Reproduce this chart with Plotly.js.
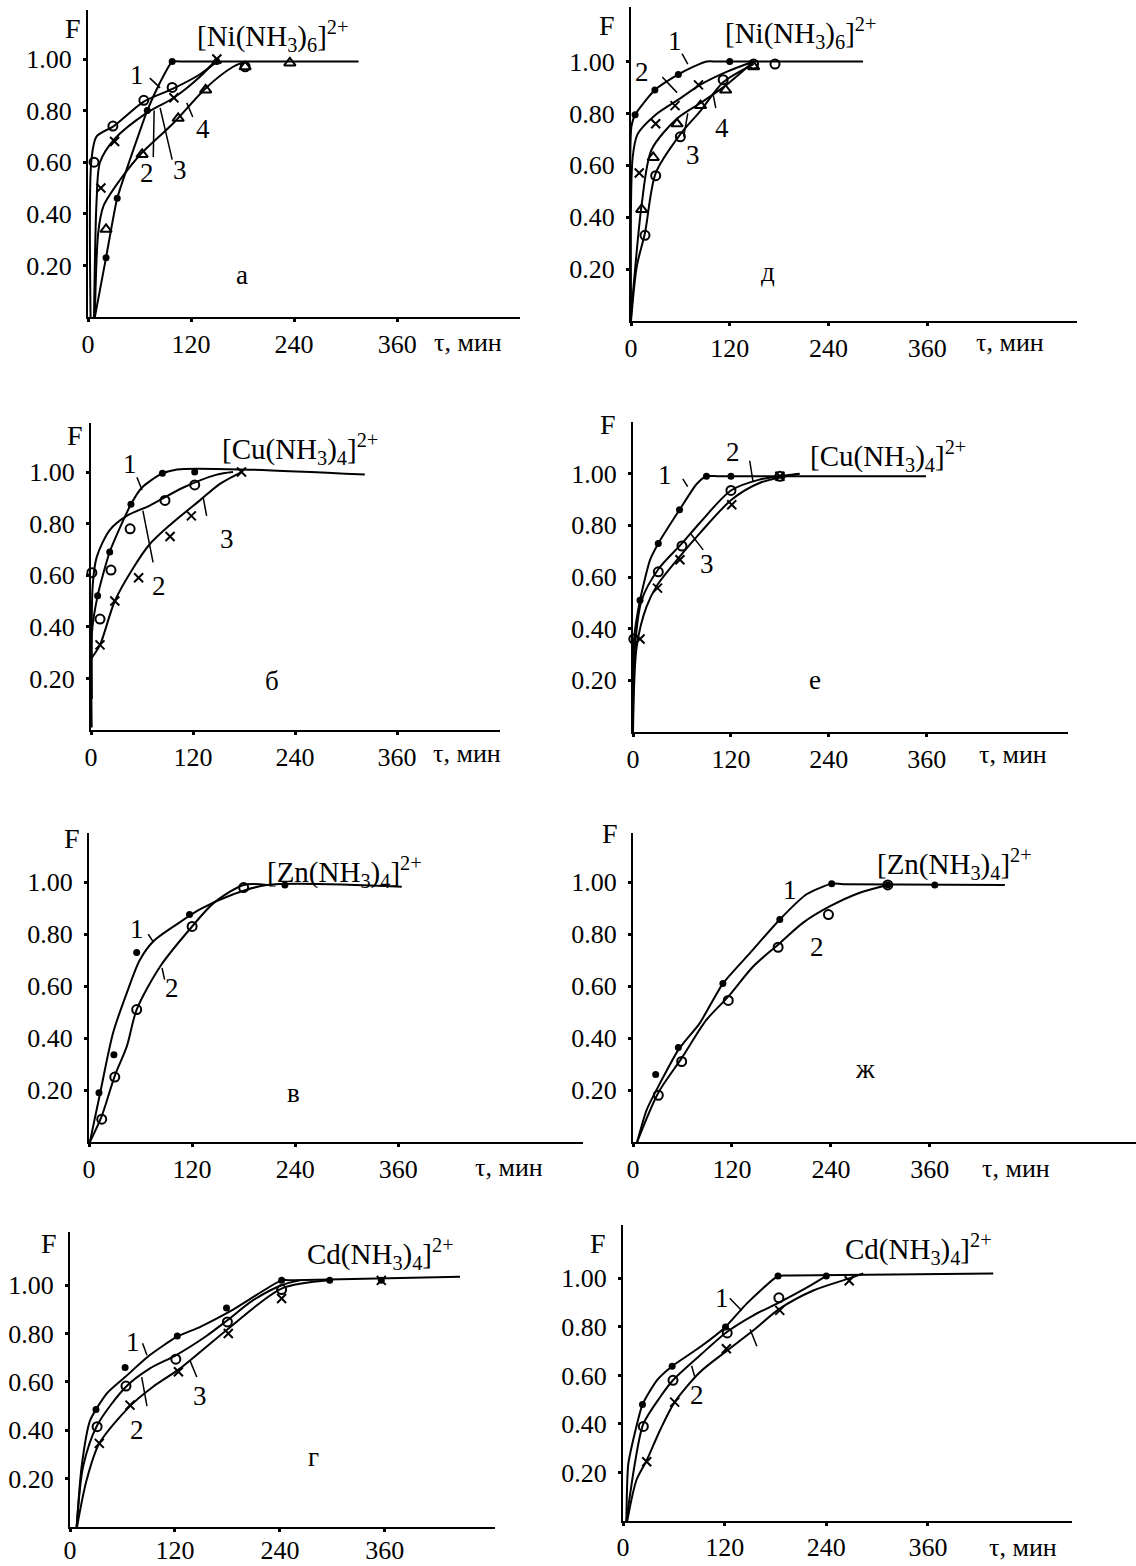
<!DOCTYPE html>
<html><head><meta charset="utf-8">
<script src="https://cdn.plot.ly/plotly-3.0.1.min.js"></script>
<style>body{margin:0;background:#fff}#plot{width:1136px;height:1566px}</style>
</head><body><div id="plot"></div>
<script>
// ===== DATA (t, min ; F) =====
// Panel а  [Ni(NH3)6]2+
const a_dot_t = [21, 34, 69, 98, 150];
const a_dot_F = [0.23, 0.46, 0.80, 0.99, 0.99];
const a_dotLine_t = [8, 21, 34, 69, 84, 98, 112, 315];
const a_dotLine_F = [0, 0.23, 0.46, 0.80, 0.91, 0.99, 0.99, 0.99];
const a_circ_t = [7, 29, 65, 98, 183];
const a_circ_F = [0.60, 0.74, 0.84, 0.89, 0.97];
const a_circLine_t = [3, 4, 10, 30, 65, 99, 130, 150];
const a_circLine_F = [0, 0.61, 0.70, 0.74, 0.835, 0.885, 0.94, 0.99];
const a_x_t = [15, 31, 100, 150];
const a_x_F = [0.50, 0.68, 0.85, 1.0];
const a_xLine_t = [7, 10, 14, 31, 68, 100, 130, 150];
const a_xLine_F = [0, 0.45, 0.60, 0.69, 0.79, 0.85, 0.93, 1.0];
const a_tri_t = [21, 63, 105, 137, 183, 235];
const a_tri_F = [0.34, 0.63, 0.77, 0.88, 0.97, 0.985];
const a_triLine_t = [8, 12, 18, 37, 61, 99, 138, 169, 183];
const a_triLine_F = [0, 0.33, 0.43, 0.53, 0.63, 0.75, 0.89, 0.97, 0.99];

// Panel д  [Ni(NH3)6]2+
const d_dot_t = [5, 29, 57.5, 120];
const d_dot_F = [0.795, 0.89, 0.95, 1.0];
const d_dotLine_t = [0, 0.5, 5, 29, 57.5, 76, 92, 105, 282];
const d_dotLine_F = [0, 0.75, 0.795, 0.89, 0.95, 0.98, 1.0, 1.0, 1.0];
const d_x_t = [10, 30, 53.5, 82];
const d_x_F = [0.57, 0.76, 0.83, 0.91];
const d_xLine_t = [0, 2, 8, 30, 57.5, 84, 116, 149];
const d_xLine_F = [0.03, 0.63, 0.72, 0.795, 0.853, 0.91, 0.96, 1.0];
const d_tri_t = [13, 27, 56, 84.5, 115, 149];
const d_tri_F = [0.43, 0.63, 0.76, 0.83, 0.89, 0.98];
const d_triLine_t = [0, 3, 13, 25, 56, 84.5, 116, 149];
const d_triLine_F = [0.02, 0.13, 0.45, 0.66, 0.78, 0.84, 0.91, 1.0];
const d_circ_t = [17, 30, 60, 112, 149, 175];
const d_circ_F = [0.33, 0.56, 0.71, 0.93, 0.99, 0.99];
const d_circLine_t = [0, 7, 17, 30, 60, 84.5, 112, 149];
const d_circLine_F = [0, 0.21, 0.34, 0.57, 0.72, 0.81, 0.92, 0.99];

// Panel б  [Cu(NH3)4]2+
const b_dot_t = [7.8, 22, 47, 84, 122];
const b_dot_F = [0.52, 0.69, 0.875, 0.995, 1.0];
const b_dotLine_t = [0.8, 1, 7.8, 22, 47, 60, 81, 101, 179, 322];
const b_dotLine_F = [0.01, 0.375, 0.52, 0.69, 0.875, 0.94, 0.99, 1.01, 1.01, 0.99];
const b_circ_t = [1, 10.6, 23.5, 46, 87, 122];
const b_circ_F = [0.61, 0.43, 0.62, 0.78, 0.89, 0.95];
const b_circLine_t = [1, 2, 6.7, 22, 42, 69, 108.6, 148, 167];
const b_circLine_F = [0.12, 0.56, 0.67, 0.775, 0.83, 0.87, 0.94, 0.99, 1.0];
const b_x_t = [10.6, 28, 56, 93, 118, 177];
const b_x_F = [0.33, 0.50, 0.59, 0.75, 0.83, 1.0];
const b_xLine_t = [1, 10.6, 28, 50, 69, 93, 128, 152, 177];
const b_xLine_F = [0.28, 0.33, 0.50, 0.63, 0.72, 0.795, 0.89, 0.955, 1.0];

// Panel е  [Cu(NH3)4]2+
const e_dot_t = [8.6, 31, 57, 90, 120];
const e_dot_F = [0.51, 0.73, 0.86, 0.99, 0.99];
const e_dotLine_t = [0, 1.2, 8.6, 21, 31, 57, 78, 90, 105, 359];
const e_dotLine_F = [0, 0.357, 0.51, 0.667, 0.73, 0.86, 0.96, 0.99, 0.99, 0.99];
const e_circ_t = [1, 31, 60, 120, 180];
const e_circ_F = [0.36, 0.62, 0.72, 0.935, 0.99];
const e_circLine_t = [0, 1.8, 10.6, 31, 60, 82, 120, 155, 204];
const e_circLine_F = [0, 0.305, 0.51, 0.63, 0.73, 0.81, 0.935, 0.977, 1.0];
const e_x_t = [8.6, 30, 57.5, 121, 180];
const e_x_F = [0.36, 0.557, 0.667, 0.88, 0.99];
const e_xLine_t = [0, 4.5, 16.7, 30, 57.5, 82, 121, 155, 204];
const e_xLine_F = [0, 0.33, 0.486, 0.57, 0.68, 0.77, 0.90, 0.964, 1.0];

// Panel в  [Zn(NH3)4]2+
const v_dot_t = [11.6, 29, 55.5, 117, 228];
const v_dot_F = [0.19, 0.336, 0.73, 0.876, 0.99];
const v_dotLine_t = [1, 12.8, 28, 44, 59, 75, 102, 129, 168, 207, 364];
const v_dotLine_F = [0, 0.186, 0.42, 0.574, 0.70, 0.773, 0.838, 0.896, 0.954, 0.99, 0.983];
const v_circ_t = [14.8, 30, 55.5, 120, 180];
const v_circ_F = [0.088, 0.25, 0.51, 0.83, 0.98];
const v_circLine_t = [1, 14.8, 30, 44, 55.5, 83, 120, 145, 180, 207];
const v_circLine_F = [0, 0.10, 0.255, 0.368, 0.51, 0.677, 0.83, 0.92, 0.99, 0.99];

// Panel ж  [Zn(NH3)4]2+
const zh_dot_t = [27.5, 55, 109, 178, 241, 309, 366];
const zh_dot_F = [0.26, 0.364, 0.61, 0.857, 0.995, 0.99, 0.99];
const zh_dotLine_t = [5, 16.6, 32.7, 55, 81, 109, 142, 178, 210.5, 241, 255, 451];
const zh_dotLine_F = [0, 0.124, 0.226, 0.355, 0.458, 0.61, 0.728, 0.857, 0.954, 0.995, 0.993, 0.99];
const zh_circ_t = [30.7, 59, 115.5, 176, 237, 309];
const zh_circ_F = [0.18, 0.31, 0.545, 0.75, 0.876, 0.99];
const zh_circLine_t = [5, 30.7, 59, 89, 115.5, 146, 176, 206, 239, 275, 309];
const zh_circLine_F = [0, 0.19, 0.323, 0.47, 0.56, 0.677, 0.76, 0.844, 0.908, 0.96, 0.99];

// Panel г  Cd(NH3)4]2+
const g_dot_t = [29.7, 63, 122.7, 179, 242, 297, 356];
const g_dot_F = [0.486, 0.66, 0.79, 0.906, 1.02, 1.02, 1.02];
const g_dotLine_t = [7.6, 13.3, 22.9, 42, 63, 91, 122, 149, 187, 242, 255, 446];
const g_dotLine_F = [0, 0.25, 0.44, 0.552, 0.62, 0.71, 0.786, 0.828, 0.90, 1.02, 1.02, 1.035];
const g_circ_t = [31, 64, 121, 180, 242];
const g_circ_F = [0.415, 0.583, 0.694, 0.848, 0.982];
const g_circLine_t = [7.6, 15, 31, 64, 91, 121, 156, 180, 209.5, 242, 263];
const g_circLine_F = [0, 0.25, 0.42, 0.58, 0.655, 0.71, 0.79, 0.855, 0.938, 1.0, 1.02];
const g_x_t = [33.5, 68.6, 124, 181, 242, 356];
const g_x_F = [0.346, 0.504, 0.642, 0.80, 0.945, 1.02];
const g_xLine_t = [8, 19, 33.5, 68.6, 95, 126, 181, 242, 297];
const g_xLine_F = [0, 0.194, 0.346, 0.50, 0.58, 0.656, 0.82, 0.986, 1.02];

// Panel (8)  Cd(NH3)4]2+
const z_dot_t = [23, 58, 121, 183, 240];
const z_dot_F = [0.48, 0.638, 0.80, 1.01, 1.01];
const z_dotLine_t = [4, 6.3, 23, 40, 58, 91, 121, 146, 183, 198, 437];
const z_dotLine_F = [0, 0.237, 0.48, 0.58, 0.638, 0.717, 0.80, 0.896, 1.01, 1.012, 1.02];
const z_circ_t = [24, 59, 123, 184];
const z_circ_F = [0.39, 0.58, 0.775, 0.92];
const z_circLine_t = [4, 14, 24, 43.7, 59, 91, 123, 154, 184, 221, 240];
const z_circLine_F = [0, 0.237, 0.40, 0.51, 0.58, 0.683, 0.78, 0.848, 0.90, 0.97, 1.01];
const z_x_t = [28, 61, 122, 185, 267];
const z_x_F = [0.244, 0.49, 0.71, 0.868, 0.99];
const z_xLine_t = [5, 16, 28, 43.7, 61, 91, 122, 154, 185, 224.6, 267, 283.6];
const z_xLine_F = [0, 0.17, 0.25, 0.374, 0.49, 0.614, 0.70, 0.786, 0.875, 0.95, 1.0, 1.02];

// tick labels
const xTickVals = [0, 120, 240, 360];
const xTickText = ['0', '120', '240', '360'];
const yTickVals = [0.2, 0.4, 0.6, 0.8, 1.0];
const yTickText = ['0.20', '0.40', '0.60', '0.80', '1.00'];

// titles / panel letters
const NI = '[Ni(NH<sub>3</sub>)<sub>6</sub>]<sup>2+</sup>';
const CU = '[Cu(NH<sub>3</sub>)<sub>4</sub>]<sup>2+</sup>';
const ZN = '[Zn(NH<sub>3</sub>)<sub>4</sub>]<sup>2+</sup>';
const CD = 'Cd(NH<sub>3</sub>)<sub>4</sub>]<sup>2+</sup>';

// ===== LAYOUT GEOMETRY (pixels) =====
const W = 1136, H = 1566;
const G = {
  a:  {n:1, xz:88,  xe:520,  yz:317,  yt:10,   xmax:503, ymax:1.19, Fdx:-15, Fdy:-18, tauX:443, tauDy:-26, so:0},
  d:  {n:2, xz:631, xe:1077, yz:321,  yt:7,    xmax:542, ymax:1.21, Fdx:-24, Fdy:-18, tauX:460, tauDy:-22, so:0},
  b:  {n:3, xz:91,  xe:500,  yz:730,  yt:423,  xmax:481, ymax:1.19, Fdx:-16, Fdy:-12, tauX:442, tauDy:-23, so:0},
  e:  {n:4, xz:633, xe:1068, yz:732,  yt:422,  xmax:533, ymax:1.20, Fdx:-25, Fdy:-3,  tauX:465, tauDy:-23, so:0},
  v:  {n:5, xz:89,  xe:583,  yz:1142, yt:833,  xmax:575, ymax:1.19, Fdx:-17, Fdy:-5,  tauX:489, tauDy:-25, so:0},
  zh: {n:6, xz:633, xe:1136, yz:1142, yt:833,  xmax:610, ymax:1.19, Fdx:-23, Fdy:0,   tauX:464, tauDy:-26, so:0},
  g:  {n:7, xz:70,  xe:495,  yz:1527, yt:1232, xmax:486, ymax:1.22, Fdx:-21, Fdy:-11, tauX:502, tauDy:-23, so:-4},
  z:  {n:8, xz:623, xe:1072, yz:1521, yt:1225, xmax:530, ymax:1.22, Fdx:-25, Fdy:-18, tauX:472, tauDy:-26, so:-1}
};

const FONT = '"Liberation Serif", "Times New Roman", serif';
const traces = [];
const layout = {
  width: W, height: H, margin: {l:0, r:0, t:0, b:0},
  paper_bgcolor: '#fff', plot_bgcolor: '#fff', showlegend: false,
  font: {family: FONT, size: 26, color: '#000'},
  annotations: [], shapes: []
};

function ax(p){ const n = G[p].n; return {x: n===1?'x':'x'+n, y: n===1?'y':'y'+n}; }

for (const p in G) {
  const g = G[p], n = g.n;
  const xk = n===1?'xaxis':'xaxis'+n, yk = n===1?'yaxis':'yaxis'+n;
  const a = ax(p);
  layout[xk] = {domain:[g.xz/W, g.xe/W], range:[0, g.xmax], anchor:a.y,
    showline:true, linecolor:'#000', linewidth:2, showgrid:false, zeroline:false,
    tickvals:xTickVals, ticktext:xTickText, ticks:'outside', ticklen:3, tickwidth:3, tickcolor:'#000',
    ticklabelstandoff:g.so, tickfont:{family:FONT, size:26, color:'#000'}, fixedrange:true};
  layout[yk] = {domain:[1-g.yz/H, 1-g.yt/H], range:[0, g.ymax], anchor:a.x,
    showline:true, linecolor:'#000', linewidth:2, showgrid:false, zeroline:false,
    tickvals:yTickVals, ticktext:yTickText, ticks:'outside', ticklen:3, tickwidth:3, tickcolor:'#000',
    ticklabelstandoff:6, tickfont:{family:FONT, size:26, color:'#000'}, fixedrange:true};
  layout.annotations.push({xref:a.x+' domain', yref:a.y+' domain', x:0, y:1, xshift:g.Fdx, yshift:g.Fdy,
    xanchor:'center', yanchor:'middle', text:'F', showarrow:false, font:{family:FONT, size:28}});
  layout.annotations.push({xref:a.x, yref:a.y+' domain', x:g.tauX, y:0, yshift:g.tauDy,
    xanchor:'center', yanchor:'middle', text:'τ, мин', showarrow:false, font:{family:FONT, size:26}});
}

function line(p, t, F, sm){
  const a = ax(p);
  traces.push({type:'scatter', mode:'lines', x:t, y:F, xaxis:a.x, yaxis:a.y,
    line:{color:'#000', width:2, shape:'spline', smoothing:(sm===undefined?0.8:sm)}, hoverinfo:'skip'});
}
function marks(p, t, F, kind){
  const a = ax(p);
  const m = {
    dot:  {symbol:'circle', size:7, color:'#000'},
    circ: {symbol:'circle-open', size:9, color:'#000', line:{width:2}},
    x:    {symbol:'x-thin-open', size:9, color:'#000', line:{width:2}},
    tri:  {symbol:'triangle-up-open', size:10, color:'#000', line:{width:2}}
  }[kind];
  traces.push({type:'scatter', mode:'markers', x:t, y:F, xaxis:a.x, yaxis:a.y, marker:m, cliponaxis:false, hoverinfo:'skip'});
}

// а
line('a', a_dotLine_t, a_dotLine_F, 0.4); marks('a', a_dot_t, a_dot_F, 'dot');
line('a', a_circLine_t, a_circLine_F); marks('a', a_circ_t, a_circ_F, 'circ');
line('a', a_xLine_t, a_xLine_F); marks('a', a_x_t, a_x_F, 'x');
line('a', a_triLine_t, a_triLine_F); marks('a', a_tri_t, a_tri_F, 'tri');
// д
line('d', d_dotLine_t, d_dotLine_F, 0.6); marks('d', d_dot_t, d_dot_F, 'dot');
line('d', d_xLine_t, d_xLine_F); marks('d', d_x_t, d_x_F, 'x');
line('d', d_triLine_t, d_triLine_F); marks('d', d_tri_t, d_tri_F, 'tri');
line('d', d_circLine_t, d_circLine_F); marks('d', d_circ_t, d_circ_F, 'circ');
// б
line('b', b_dotLine_t, b_dotLine_F, 0.6); marks('b', b_dot_t, b_dot_F, 'dot');
line('b', b_circLine_t, b_circLine_F); marks('b', b_circ_t, b_circ_F, 'circ');
line('b', b_xLine_t, b_xLine_F); marks('b', b_x_t, b_x_F, 'x');
// е
line('e', e_dotLine_t, e_dotLine_F, 0.6); marks('e', e_dot_t, e_dot_F, 'dot');
line('e', e_circLine_t, e_circLine_F); marks('e', e_circ_t, e_circ_F, 'circ');
line('e', e_xLine_t, e_xLine_F); marks('e', e_x_t, e_x_F, 'x');
// в
line('v', v_dotLine_t, v_dotLine_F); marks('v', v_dot_t, v_dot_F, 'dot');
line('v', v_circLine_t, v_circLine_F); marks('v', v_circ_t, v_circ_F, 'circ');
// ж
line('zh', zh_dotLine_t, zh_dotLine_F, 0.6); marks('zh', zh_dot_t, zh_dot_F, 'dot');
line('zh', zh_circLine_t, zh_circLine_F); marks('zh', zh_circ_t, zh_circ_F, 'circ');
// г
line('g', g_dotLine_t, g_dotLine_F, 0.6); marks('g', g_dot_t, g_dot_F, 'dot');
line('g', g_circLine_t, g_circLine_F); marks('g', g_circ_t, g_circ_F, 'circ');
line('g', g_xLine_t, g_xLine_F); marks('g', g_x_t, g_x_F, 'x');
// 8
line('z', z_dotLine_t, z_dotLine_F, 0.5); marks('z', z_dot_t, z_dot_F, 'dot');
line('z', z_circLine_t, z_circLine_F); marks('z', z_circ_t, z_circ_F, 'circ');
line('z', z_xLine_t, z_xLine_F); marks('z', z_x_t, z_x_F, 'x');

// text labels (data coordinates of each panel)
function txt(p, t, F, text, anchor, size){
  const a = ax(p);
  layout.annotations.push({xref:a.x, yref:a.y, x:t, y:F, text:text, showarrow:false,
    xanchor:anchor||'center', yanchor:'middle', font:{family:FONT, size:size||27, color:'#000'}});
}
function lead(p, t0, F0, t1, F1){
  const a = ax(p);
  layout.shapes.push({type:'line', xref:a.x, yref:a.y, x0:t0, y0:F0, x1:t1, y1:F1, line:{color:'#000', width:1.5}});
}
// titles
txt('a', 125, 1.09, NI, 'left', 29); txt('d', 112, 1.11, NI, 'left', 29);
txt('b', 152, 1.09, CU, 'left', 29); txt('e', 214, 1.07, CU, 'left', 29);
txt('v', 205, 1.04, ZN, 'left', 29); txt('zh', 293, 1.07, ZN, 'left', 29);
txt('g', 269, 1.13, CD, 'left', 29); txt('z', 260, 1.12, CD, 'left', 29);
// panel letters
txt('a', 179, 0.163, 'а'); txt('d', 167, 0.19, 'д');
txt('b', 213, 0.19, 'б'); txt('e', 223, 0.20, 'е');
txt('v', 238, 0.19, 'в'); txt('zh', 281, 0.28, 'ж');
txt('g', 278, 0.29, 'г');
// curve numbers + leaders
txt('a', 57, 0.94, '1'); lead('a', 72, 0.926, 84, 0.888);
txt('a', 69, 0.56, '2'); lead('a', 76, 0.62, 77, 0.80);
txt('a', 107, 0.57, '3'); lead('a', 98, 0.61, 84, 0.81);
txt('a', 134, 0.73, '4'); lead('a', 122, 0.775, 115, 0.83);
txt('d', 53.5, 1.08, '1'); lead('d', 62, 1.03, 69, 0.99);
txt('d', 13.4, 0.96, '2'); lead('d', 38, 0.94, 56, 0.88);
txt('d', 75, 0.64, '3'); lead('d', 64, 0.71, 69, 0.80);
txt('d', 110.6, 0.745, '4'); lead('d', 103, 0.82, 100, 0.87);
txt('b', 46, 1.03, '1'); lead('b', 54, 0.98, 60, 0.93);
txt('b', 80, 0.56, '2'); lead('b', 73, 0.65, 61, 0.85);
txt('b', 160, 0.74, '3'); lead('b', 132, 0.90, 136, 0.83);
txt('e', 39, 0.996, '1'); lead('e', 61, 0.98, 67, 0.95);
txt('e', 122, 1.085, '2'); lead('e', 143, 1.05, 147, 0.97);
txt('e', 90.5, 0.65, '3'); lead('e', 86, 0.705, 70, 0.77);
txt('v', 56, 0.82, '1'); lead('v', 69, 0.80, 75, 0.77);
txt('v', 97, 0.595, '2'); lead('v', 85, 0.67, 88, 0.625);
txt('zh', 190, 0.97, '1');
txt('zh', 223, 0.75, '2');
txt('g', 72, 0.765, '1'); lead('g', 83, 0.76, 88, 0.71);
txt('g', 76.5, 0.40, '2'); lead('g', 82, 0.62, 88, 0.50);
txt('g', 149, 0.54, '3'); lead('g', 137, 0.69, 145, 0.62);
txt('z', 117, 0.92, '1'); lead('z', 126, 0.918, 140, 0.868);
txt('z', 87, 0.52, '2'); lead('z', 81, 0.64, 85, 0.59);
lead('z', 150, 0.79, 158, 0.72);

Plotly.newPlot('plot', traces, layout, {staticPlot:true, displayModeBar:false});
</script></body></html>
